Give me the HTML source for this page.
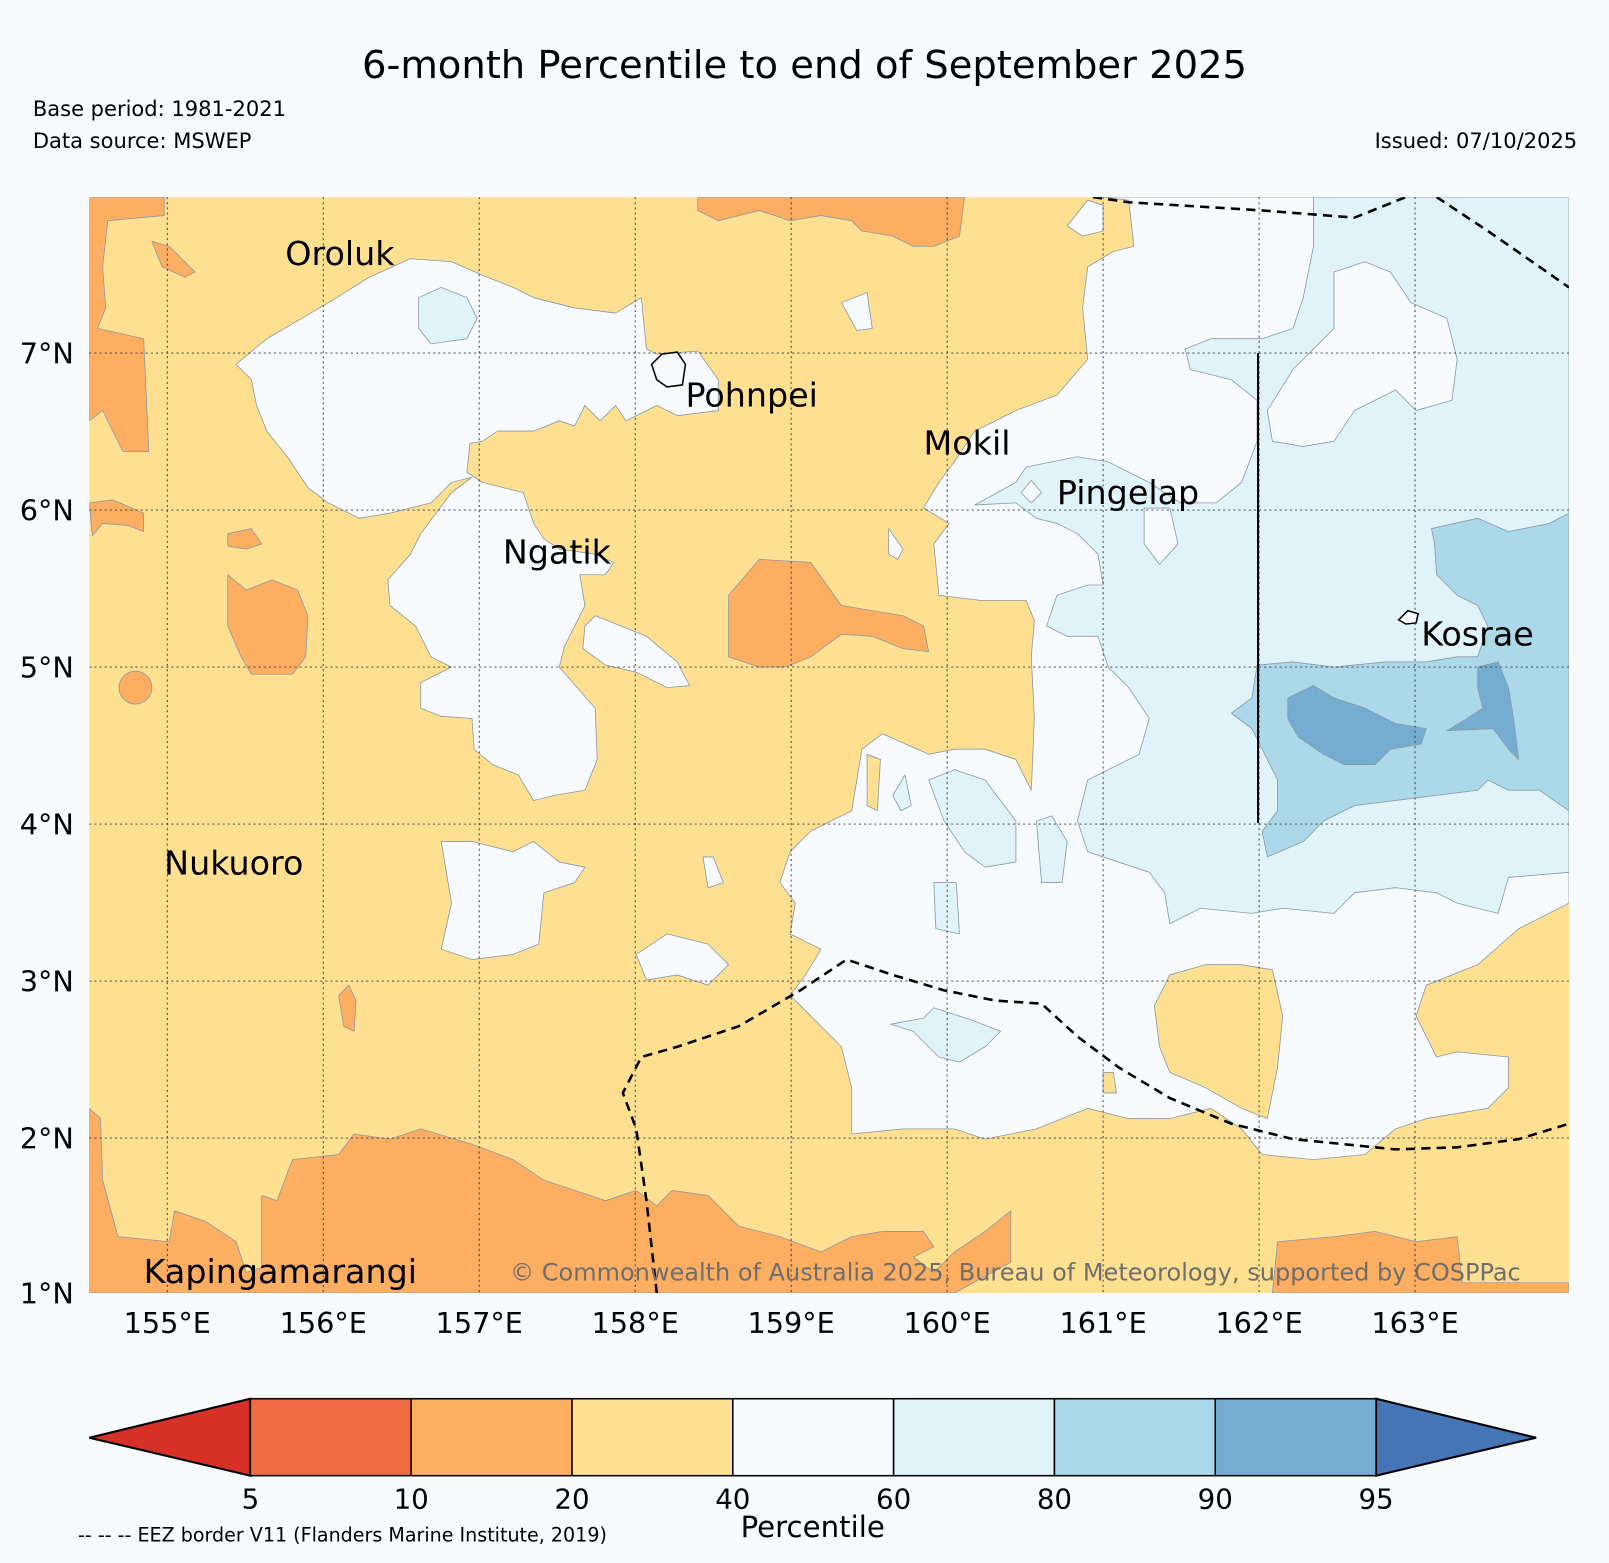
<!DOCTYPE html>
<html><head><meta charset="utf-8"><style>
html,body{margin:0;padding:0;background:#f7fbfe;}
svg{display:block;font-family:"DejaVu Sans","Liberation Sans",sans-serif;}
.c{stroke:#8a9aa6;stroke-width:0.8;stroke-linejoin:round}
</style></head><body>
<svg width="1609" height="1563" viewBox="0 0 1568 1523" xmlns="http://www.w3.org/2000/svg">
<rect width="1568" height="1523" fill="#f7fbfe"/>
<text x="784" y="76" font-size="37.5" text-anchor="middle">6-month Percentile to end of September 2025</text>
<text x="32" y="113" font-size="20.5">Base period: 1981-2021</text>
<text x="32" y="144" font-size="20.5">Data source: MSWEP</text>
<text x="1537" y="144" font-size="20.5" text-anchor="end">Issued: 07/10/2025</text>
<defs><clipPath id="mc"><rect x="87" y="192" width="1442" height="1068"/></clipPath></defs>
<g clip-path="url(#mc)">
<rect x="87" y="192" width="1442" height="1068" fill="#fee090"/>
<g fill="#fdae61" class="c">
<polygon points="87,192 160,192 160,210 105,215 100,260 103,300 95,320 140,330 145,440 120,440 100,400 87,410"/>
<polygon points="680,192 940,192 935,230 910,240 890,240 870,230 840,225 830,215 800,210 770,215 740,205 700,215 680,205"/>
<polygon points="710,580 740,545 790,548 820,590 850,595 880,600 900,610 905,635 880,632 850,620 820,618 790,640 765,650 740,650 710,640"/>
<polygon points="222,560 240,575 265,565 290,575 300,600 298,640 285,657 245,657 235,640 222,610"/>
<circle cx="132" cy="670" r="16"/>
<polygon points="87,490 110,487 140,500 140,518 125,512 100,510 90,522"/>
<polygon points="222,520 245,515 255,530 240,535 222,532"/>
<polygon points="87,1260 87,1080 98,1090 100,1150 115,1205 165,1210 170,1180 200,1190 230,1210 240,1240 255,1235 255,1165 270,1170 285,1130 330,1125 345,1105 380,1110 410,1100 460,1115 500,1130 530,1150 560,1160 590,1170 620,1160 640,1175 655,1160 690,1165 720,1195 760,1205 800,1220 830,1205 860,1200 900,1200 910,1215 890,1225 910,1240 930,1220 960,1200 985,1180 985,1230 930,1260"/>
<polygon points="1240,1260 1245,1210 1300,1205 1340,1200 1380,1210 1420,1205 1425,1250 1529,1250 1529,1260"/>
<polygon points="330,970 340,960 347,975 345,1005 335,1000"/>
<polygon points="148,235 165,240 190,265 180,270 158,260"/>
</g>
<g fill="#f7fbff" class="c">
<polygon points="230,355 260,330 320,295 360,270 400,252 440,255 470,268 500,280 520,290 560,300 600,305 625,290 630,340 640,345 680,342 700,370 700,400 660,405 640,395 610,410 600,395 585,410 570,395 560,415 545,410 520,420 485,420 470,430 458,432 455,460 470,470 490,475 510,480 520,510 530,525 545,535 580,540 598,548 590,560 565,560 570,590 550,630 545,650 580,690 582,740 570,770 540,775 520,780 505,755 480,745 462,730 460,700 430,698 410,690 410,665 440,650 420,640 405,610 380,590 378,565 400,540 410,520 440,480 460,465 440,470 420,490 380,500 350,505 320,490 300,475 280,445 260,420 250,395 245,370"/>
<polygon points="570,610 580,600 630,620 660,645 672,668 650,670 620,655 590,648 568,632"/>
<polygon points="430,820 460,820 500,830 520,820 545,840 570,845 560,860 530,870 525,920 500,930 460,935 430,925 440,880"/>
<polygon points="620,930 650,910 690,920 710,940 690,960 660,950 630,955"/>
<polygon points="685,835 695,835 705,860 690,865"/>
<polygon points="820,295 845,285 850,320 835,322"/>
<polygon points="866,515 880,535 875,545 866,540"/>
<polygon points="1040,220 1060,195 1075,200 1075,225 1055,230"/>
<polygon points="1075,192 1100,195 1105,240 1085,245 1060,260 1055,300 1060,350 1030,385 990,400 950,420 930,450 915,470 900,495 925,510 910,530 915,580 955,585 1000,585 1008,605 1005,640 1008,700 1005,770 990,740 960,730 930,730 905,735 860,715 840,730 830,790 790,810 770,830 760,860 775,880 770,910 800,925 785,950 770,970 790,990 820,1020 830,1060 830,1105 880,1100 930,1100 960,1110 1010,1100 1060,1080 1100,1090 1140,1090 1180,1080 1210,1100 1230,1125 1280,1130 1330,1125 1360,1100 1390,1090 1450,1080 1470,1060 1470,1030 1420,1025 1400,1030 1380,990 1390,960 1440,940 1480,905 1529,880 1529,192"/>
</g>
<g fill="#fee090" class="c">
<polygon points="1125,980 1140,950 1175,940 1210,940 1240,945 1250,990 1245,1040 1235,1090 1210,1080 1175,1060 1140,1045 1130,1020"/>
<polygon points="845,735 858,740 855,790 845,785"/>
<polygon points="1075,1045 1085,1045 1088,1065 1075,1065"/>
</g>
<g fill="#e0f3f8" class="c">
<polygon points="408,290 430,280 455,290 465,310 455,330 420,335 408,320"/>
<polygon points="1280,192 1529,192 1529,850 1470,855 1460,890 1420,880 1400,870 1360,865 1320,870 1300,890 1250,885 1220,890 1170,885 1140,900 1135,870 1120,850 1090,840 1060,830 1050,800 1060,760 1110,735 1120,700 1100,670 1080,650 1070,620 1040,620 1020,610 1030,580 1060,570 1075,570 1070,540 1050,520 1030,510 1010,505 990,490 950,492 990,470 1000,455 1050,445 1080,450 1120,470 1150,490 1185,490 1210,470 1225,430 1225,390 1200,370 1160,360 1155,340 1180,330 1230,330 1260,320 1270,290 1280,240"/>
<polygon points="905,760 930,750 960,760 990,800 990,840 960,845 940,830 920,800"/>
<polygon points="1010,800 1025,795 1040,820 1035,860 1015,860"/>
<polygon points="868,998 900,992 910,982 950,995 975,1005 960,1020 935,1035 915,1030 890,1005"/>
<polygon points="870,775 882,755 888,785 878,790"/>
<polygon points="910,860 932,860 935,910 912,905"/>
</g>
<g fill="#f7fbff" class="c">
<polygon points="1300,265 1330,255 1355,265 1375,295 1410,310 1420,350 1415,390 1380,400 1360,380 1320,400 1300,430 1270,435 1240,430 1235,400 1260,360 1300,320 1300,290"/>
<polygon points="1115,495 1140,495 1148,530 1130,550 1115,530"/>
<polygon points="995,480 1005,468 1015,480 1005,490"/>
</g>
<g fill="#abd9e9" class="c">
<polygon points="1395,515 1440,505 1470,518 1510,510 1529,500 1529,790 1500,770 1470,770 1450,760 1440,770 1400,775 1360,780 1320,785 1290,800 1270,820 1235,835 1230,810 1245,790 1245,760 1235,740 1220,710 1200,695 1220,680 1225,648 1260,645 1300,650 1350,645 1390,645 1420,640 1440,640 1450,610 1440,590 1420,580 1400,560 1398,530"/>
</g>
<g fill="#74add1" class="c">
<polygon points="1255,680 1280,668 1300,680 1330,690 1360,705 1390,710 1385,725 1355,730 1340,745 1310,745 1290,735 1265,718 1255,700"/>
<polygon points="1440,650 1460,645 1470,670 1475,700 1480,740 1470,730 1455,710 1410,712 1430,700 1445,690 1440,670"/>
</g>
<g stroke="#333" stroke-width="0.9" stroke-dasharray="2,3">
<line x1="163" y1="192" x2="163" y2="1260"/><line x1="315" y1="192" x2="315" y2="1260"/><line x1="467" y1="192" x2="467" y2="1260"/><line x1="619" y1="192" x2="619" y2="1260"/><line x1="771" y1="192" x2="771" y2="1260"/><line x1="923" y1="192" x2="923" y2="1260"/><line x1="1075" y1="192" x2="1075" y2="1260"/><line x1="1227" y1="192" x2="1227" y2="1260"/><line x1="1379" y1="192" x2="1379" y2="1260"/>
<line x1="87" y1="344" x2="1529" y2="344"/><line x1="87" y1="497" x2="1529" y2="497"/><line x1="87" y1="650" x2="1529" y2="650"/><line x1="87" y1="803" x2="1529" y2="803"/><line x1="87" y1="956" x2="1529" y2="956"/><line x1="87" y1="1109" x2="1529" y2="1109"/>
</g>
<line x1="1226" y1="344" x2="1226" y2="802" stroke="#000" stroke-width="2"/>
<g fill="none" stroke="#000" stroke-width="2.5" stroke-dasharray="9,6">
<polyline points="1065,192 1100,197 1230,205 1320,212 1370,192"/>
<polyline points="1400,192 1450,225 1529,280"/>
<polyline points="640,1260 630,1170 620,1100 607,1065 625,1030 660,1020 720,1000 780,965 825,935 870,950 920,965 970,975 1015,978 1050,1010 1090,1040 1140,1070 1200,1095 1260,1110 1310,1115 1360,1120 1420,1118 1480,1110 1529,1095"/>
</g>
<path d="M635,355 L645,345 660,343 668,355 665,375 650,377 640,370 Z" fill="#f7fbff" stroke="#000" stroke-width="1.5"/>
<path d="M1363,604 L1372,595 1382,598 1380,607 1370,608 Z" fill="#f7fbff" stroke="#000" stroke-width="1.5"/>
<g font-size="32.5" fill="#000">
<text x="278" y="258">Oroluk</text>
<text x="668" y="396">Pohnpei</text>
<text x="900" y="443">Mokil</text>
<text x="1030" y="491">Pingelap</text>
<text x="490" y="549">Ngatik</text>
<text x="1385" y="629">Kosrae</text>
<text x="160" y="852">Nukuoro</text>
<text x="140" y="1250">Kapingamarangi</text>
</g>
<text x="1482" y="1248" font-size="23.4" fill="#6e6e6e" text-anchor="end">© Commonwealth of Australia 2025, Bureau of Meteorology, supported by COSPPac</text>
</g>
<g font-size="28">
<text x="72" y="354" text-anchor="end">7°N</text><text x="72" y="507" text-anchor="end">6°N</text><text x="72" y="660" text-anchor="end">5°N</text><text x="72" y="813" text-anchor="end">4°N</text><text x="72" y="966" text-anchor="end">3°N</text><text x="72" y="1119" text-anchor="end">2°N</text><text x="72" y="1270" text-anchor="end">1°N</text>
</g>
<g font-size="28" text-anchor="middle">
<text x="163" y="1299">155°E</text><text x="315" y="1299">156°E</text><text x="467" y="1299">157°E</text><text x="619" y="1299">158°E</text><text x="771" y="1299">159°E</text><text x="923" y="1299">160°E</text><text x="1075" y="1299">161°E</text><text x="1227" y="1299">162°E</text><text x="1379" y="1299">163°E</text>
</g>
<g id="cbar"></g>
<text x="792" y="1498" font-size="28.5" text-anchor="middle">Percentile</text>
<text x="76" y="1502" font-size="18.6">-- -- -- EEZ border V11 (Flanders Marine Institute, 2019)</text>
<script>
const levels=[5,10,20,40,60,80,90,95];
const bandColors=["#f06b43","#fdae61","#fee090","#f7fbff","#e0f3f8","#abd9e9","#74add1"];
const underColor="#d73027", overColor="#4575b4";
const g=document.getElementById('cbar');
const ns="http://www.w3.org/2000/svg";
const x0=244,x1=1341,y0=1363,y1=1438,ym=1401;
function cx(i){return x0+(x1-x0)*i/(levels.length-1);}
function mk(t,a){const e=document.createElementNS(ns,t);for(const k in a)e.setAttribute(k,a[k]);g.appendChild(e);return e;}
let tl=mk('polygon',{points:`87,${ym} ${x0},${y0} ${x0},${y1}`,fill:underColor,stroke:'#000','stroke-width':2});


let tr=mk('polygon',{points:`1497,${ym} ${x1},${y0} ${x1},${y1}`,fill:overColor,stroke:'#000','stroke-width':2});


bandColors.forEach((c,i)=>{
 const r=mk('rect',{x:cx(i),y:y0,width:cx(i+1)-cx(i),height:y1-y0,fill:c,stroke:'#000','stroke-width':1.5});
 
 
});
levels.forEach((v,i)=>{
 const t=mk('text',{x:cx(i),y:1470,'font-size':27,'text-anchor':'middle'});
 t.textContent=v;
 
 
});
</script>
</svg>
</body></html>
